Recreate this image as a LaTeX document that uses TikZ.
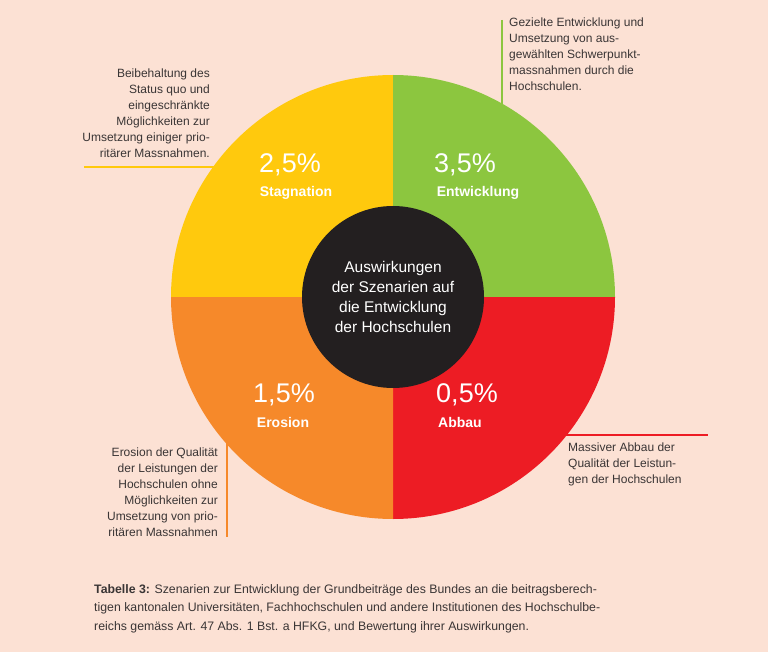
\documentclass[tikz,border=0pt]{standalone}
\usepackage{fontspec}
\setmainfont{Liberation Sans}
\definecolor{bg}{HTML}{FCE1D4}
\definecolor{cy}{HTML}{FFC90D}
\definecolor{cg}{HTML}{8CC63F}
\definecolor{cr}{HTML}{ED1C24}
\definecolor{co}{HTML}{F6892A}
\definecolor{cb}{HTML}{231F20}
\definecolor{tx}{HTML}{3A3535}
\begin{document}
\begin{tikzpicture}[x=1pt,y=-1pt,
  note/.style={font=\fontsize{12}{16}\selectfont, text=tx, inner sep=0pt},
  pct/.style={font=\fontsize{27}{28}\selectfont, text=white, inner sep=0pt},
  lab/.style={font=\bfseries\fontsize{14}{16}\selectfont, text=white, inner sep=0pt}]
\fill[bg] (0,0) rectangle (768,652);
\useasboundingbox (0,0) rectangle (768,652);
\coordinate (c) at (393,297);
% leader lines
\draw[cy, line width=1.2pt] (84,167) -- (230,167);
\draw[cg, line width=1.2pt] (502,20) -- (502,110);
\draw[cr, line width=1.2pt] (540,435) -- (708,435);
\draw[co, line width=1.2pt] (227,440) -- (227,537);
% quadrants (y axis points down: 270 = up)
\fill[cy] (c) -- ++(-222,0) arc[start angle=180,end angle=270,radius=222] -- cycle;
\fill[cg] (c) -- ++(0,-222) arc[start angle=270,end angle=360,radius=222] -- cycle;
\fill[cr] (c) -- ++(222,0) arc[start angle=0,end angle=90,radius=222] -- cycle;
\fill[co] (c) -- ++(0,222) arc[start angle=90,end angle=180,radius=222] -- cycle;
\node[circle, fill=cb, minimum size=182pt, inner sep=0pt, align=center, text=white,
  font=\fontsize{15.5}{20.3}\selectfont] (hub) at (c) {Auswirkungen\\der Szenarien auf\\die Entwicklung\\der Hochschulen};
\node[pct] (p1) at (290,165) {2,5\%};
\node[lab] (l1) at (296,193) {Stagnation};
\node[pct] (p2) at (465,165) {3,5\%};
\node[lab] (l2) at (478,193) {Entwicklung};
\node[pct] (p3) at (284,395) {1,5\%};
\node[lab] (l3) at (283,422) {Erosion};
\node[pct] (p4) at (467,395) {0,5\%};
\node[lab] (l4) at (460,422) {Abbau};
% notes
\node[note, align=right, anchor=north east] (n1) at (210,69) {Beibehaltung des\\Status quo und\\eingeschränkte\\Möglichkeiten zur\\Umsetzung einiger prio-\\ritärer Massnahmen.};
\node[note, align=left, anchor=north west] (n2) at (509,18) {Gezielte Entwicklung und\\Umsetzung von aus-\\gewählten Schwerpunkt-\\massnahmen durch die\\Hochschulen.};
\node[note, align=left, anchor=north west] (n3) at (568,443) {Massiver Abbau der\\Qualität der Leistun-\\gen der Hochschulen};
\node[note, align=right, anchor=north east] (n4) at (218,448) {Erosion der Qualität\\der Leistungen der\\Hochschulen ohne\\Möglichkeiten zur\\Umsetzung von prio-\\ritären Massnahmen};
\node[note, align=left, anchor=north west, font=\fontsize{12.3}{18.5}\selectfont] (cap) at (94,584) {\textbf{Tabelle 3:} Szenarien zur Entwicklung der Grundbeiträge des Bundes an die beitragsberech-\\tigen kantonalen Universitäten, Fachhochschulen und andere Institutionen des Hochschulbe-\\reichs gemäss Art. 47 Abs. 1 Bst. a HFKG, und Bewertung ihrer Auswirkungen.};
\end{tikzpicture}
\end{document}
